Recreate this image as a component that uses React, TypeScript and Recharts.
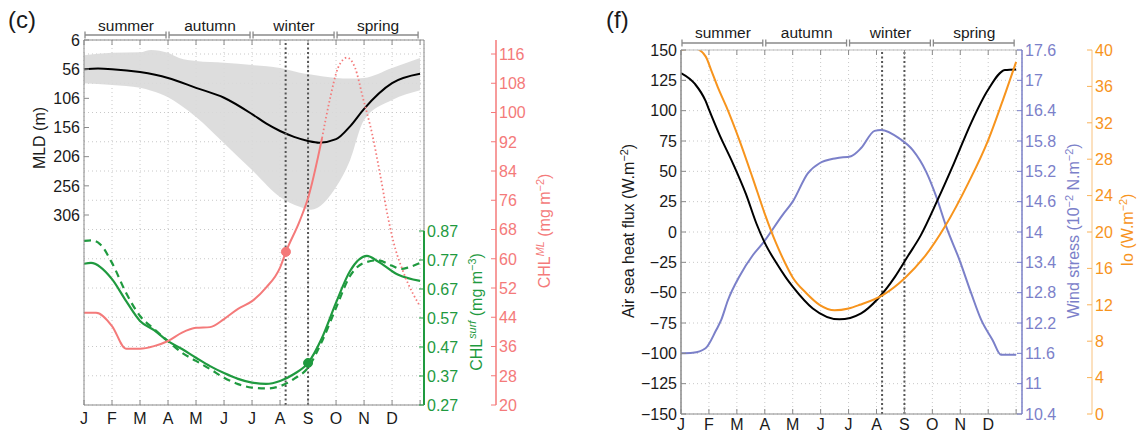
import React from "react";
import {
  Area,
  CartesianGrid,
  ComposedChart,
  Line,
  ReferenceDot,
  ReferenceLine,
  XAxis,
  YAxis,
} from "recharts";

/* =========================
   Data
========================= */

const MONTHS = ["J", "F", "M", "A", "M", "J", "J", "A", "S", "O", "N", "D", ""];
const MONTH_TICKS = [0, 1, 2, 3, 4, 5, 6, 7, 8, 9, 10, 11, 12];
const SEASONS = ["summer", "autumn", "winter", "spring"];
const EVENT_M = [7.2, 8];

// panel (c)
const MLD_TICKS = [6, 56, 106, 156, 206, 256, 306];
const CHLS_TICKS = [0.27, 0.37, 0.47, 0.57, 0.67, 0.77, 0.87];
const CHLML_TICKS = [20, 28, 36, 44, 52, 60, 68, 76, 84, 92, 100, 108, 116];

const MLD_M = [0, 0.5, 1, 2, 3, 4, 5, 6, 6.5, 7, 7.5, 8, 8.4, 9, 9.5, 10, 11, 12];
const MLD_V = [56, 55, 56, 61, 71, 88, 105, 133, 149, 162, 172, 179, 182, 176, 154, 124, 80, 64];

const BAND_M = [0, 1, 2, 2.4, 3, 3.4, 4, 5, 6, 7, 7.7, 8.1, 9, 9.5, 10, 11, 12];
const BAND_SHALLOW = [32, 28, 27, 23, 28, 37, 42, 45, 49, 54, 62, 65, 71, 72, 71, 54, 37];
const BAND_DEEP = [80, 83, 88, 93, 104, 116, 138, 183, 229, 275, 292, 297, 258, 212, 143, 109, 92];

const CHLML_M = [0, 0.43, 1, 1.5, 2, 2.5, 3, 3.5, 4, 4.5, 5, 5.5, 6, 6.5, 7, 7.21, 7.7, 8, 8.5];
const CHLML_V = [45.2, 45.2, 41.6, 35.4, 35.4, 36.1, 37.5, 39.8, 41.1, 41.3, 43.5, 46.3, 48.4, 52.1, 57.6, 61.9, 70.3, 76.6, 93];

const CHLML_DOT_M = [8.5, 8.79, 9.07, 9.39, 9.68, 9.96, 10.29, 10.57, 10.86, 11.04, 11.39, 11.75, 12];
const CHLML_DOT_V = [93, 104, 112.2, 115, 112.2, 104, 94.1, 83.2, 71.1, 64.9, 56.6, 50.4, 47];

const CHLS_M = [0, 0.25, 1, 1.5, 2, 2.5, 3, 3.5, 4, 4.5, 5, 5.5, 6, 6.5, 7, 7.5, 8, 8.5, 9, 9.5, 10.1, 10.5, 11.2, 12];
const CHLS_V = [0.757, 0.76, 0.704, 0.629, 0.56, 0.528, 0.49, 0.463, 0.433, 0.404, 0.38, 0.36, 0.347, 0.343, 0.353, 0.377, 0.415, 0.502, 0.623, 0.732, 0.784, 0.765, 0.72, 0.698];

const CHLS_DASH_M = [0, 0.25, 0.57, 1, 1.5, 2, 2.5, 3, 3.5, 4, 4.5, 5, 5.5, 6, 6.5, 7, 7.5, 8, 8.5, 9, 9.5, 10, 10.5, 11, 11.3, 11.6, 12];
const CHLS_DASH_V = [0.836, 0.838, 0.825, 0.76, 0.657, 0.577, 0.532, 0.49, 0.45, 0.422, 0.394, 0.364, 0.342, 0.33, 0.327, 0.335, 0.36, 0.399, 0.49, 0.605, 0.715, 0.76, 0.769, 0.75, 0.739, 0.745, 0.76];

const CHLML_MARK = { m: 7.21, v: 61.9 };
const CHLS_MARK = { m: 8, v: 0.415 };

// panel (f)
const FLUX_TICKS = [-150, -125, -100, -75, -50, -25, 0, 25, 50, 75, 100, 125, 150];
const WIND_TICKS = [10.4, 11, 11.6, 12.2, 12.8, 13.4, 14, 14.6, 15.2, 15.8, 16.4, 17, 17.6];
const IO_TICKS = [0, 4, 8, 12, 16, 20, 24, 28, 32, 36, 40];

const FLUX_M = [0, 0.5, 0.88, 1, 1.38, 1.85, 2.33, 2.7, 3, 3.4, 3.77, 4, 4.72, 5.67, 6.45, 7.05, 7.66, 8.12, 8.58, 9.18, 9.78, 10.39, 10.99, 11.6, 12];
const FLUX_V = [131, 122, 108, 101, 80, 57, 31, 7, -9, -25, -38, -45, -63, -72, -67, -55, -37, -20, -3, 26, 57, 90, 117, 133.5, 134];

const WIND_M = [0, 0.42, 0.88, 1.26, 1.44, 1.68, 2.09, 2.57, 2.93, 3.64, 4, 4.54, 4.96, 5.56, 6.09, 6.45, 6.93, 7.17, 7.82, 8.3, 8.78, 9.14, 9.5, 9.97, 10.39, 10.75, 11.16, 11.46, 12];
const WIND_V = [11.6, 11.61, 11.7, 12.06, 12.26, 12.65, 13.12, 13.54, 13.78, 14.34, 14.6, 15.16, 15.36, 15.46, 15.5, 15.66, 16.0, 16.02, 15.85, 15.62, 15.19, 14.7, 14.1, 13.45, 12.79, 12.26, 11.86, 11.57, 11.57];

const IO_M = [0, 0.48, 0.88, 1.08, 1.32, 1.62, 2.09, 2.57, 3, 3.4, 3.71, 4, 4.48, 4.96, 5.5, 6, 6.4, 7.24, 8, 8.7, 9.45, 10.29, 11, 11.48, 12];
const IO_V = [40, 40.2, 39.3, 37.8, 35.9, 33.8, 30.1, 25.9, 22, 18.8, 16.7, 15, 13.3, 12, 11.4, 11.6, 12, 13.1, 14.9, 17.2, 20.6, 25.4, 30.1, 34.1, 38.7];

/* =========================
   Style / layout
========================= */

const FONT = '"Liberation Sans", Arial, Helvetica, sans-serif';
const AXIS = "#8a8a8a";
const TXT = "#1a1a1a";
const GREEN = "#1f9a3f";
const PINK = "#f47a7a";
const BLUE = "#7b80c9";
const ORANGE = "#f7941d";
const BAND = "#d9d9d9";
const GRID = "#c8c8c8";

const XMAX_C = 12.14;
const XMAX_F = 12.21;
const MPX_C = 340 / XMAX_C;
const MPX_F = 341 / XMAX_F;

function pts(m: number[], v: number[]) {
  return m.map((x, i) => ({ m: x, v: v[i] }));
}

const fmtMinus = (v: number) => (v < 0 ? "\u2212" + Math.abs(v) : String(v));

/* =========================
   Tick renderers
========================= */

function bottomTick(labelDy: number) {
  return (p: any) => (
    <g>
      <line x1={p.x} x2={p.x} y1={p.y} y2={p.y - 5} stroke={AXIS} />
      <text x={p.x} y={p.y + labelDy} textAnchor="middle" fontSize={16} fill={TXT} fontFamily={FONT}>
        {MONTHS[p.payload.value]}
      </text>
    </g>
  );
}

function topTick(mpx: number, bracketUp: number, textUp: number) {
  return (p: any) => {
    const m = p.payload.value;
    const x = p.x;
    const y = p.y;
    const season = m % 3 === 0 && m < 12 ? SEASONS[m / 3] : null;
    const by = y - bracketUp;
    const x0 = x + 1;
    const x1 = x + 3 * mpx - 2;
    return (
      <g>
        <line x1={x} x2={x} y1={y} y2={y + 5} stroke={AXIS} />
        {season && (
          <g>
            <path
              d={`M${x0},${by - 3.5}V${by + 3.5}M${x0},${by}H${x1}M${x1},${by - 3.5}V${by + 3.5}`}
              stroke={AXIS}
              strokeWidth={1.3}
              fill="none"
            />
            <text x={x + 1.5 * mpx} y={y - textUp} textAnchor="middle" fontSize={15.5} fill={TXT} fontFamily={FONT}>
              {season}
            </text>
          </g>
        )}
      </g>
    );
  };
}

function leftTick(fmt: (v: number) => string, color: string) {
  return (p: any) => (
    <g>
      <line x1={p.x} x2={p.x + 5} y1={p.y} y2={p.y} stroke={AXIS} />
      <text x={p.x - 4} y={p.y} dy="0.36em" textAnchor="end" fontSize={16} fill={color} fontFamily={FONT}>
        {fmt(p.payload.value)}
      </text>
    </g>
  );
}

function rightTick(fmt: (v: number) => string, color: string, tickColor: string) {
  return (p: any) => (
    <g>
      <line x1={p.x} x2={p.x - 5} y1={p.y} y2={p.y} stroke={tickColor} />
      <text x={p.x + 3} y={p.y} dy="0.36em" textAnchor="start" fontSize={16} fill={color} fontFamily={FONT}>
        {fmt(p.payload.value)}
      </text>
    </g>
  );
}

function VTitle({ x, y, color, children }: { x: number; y: number; color: string; children: React.ReactNode }) {
  return (
    <div
      style={{
        position: "absolute",
        left: x,
        top: y,
        transform: "translate(-50%, -50%) rotate(-90deg)",
        whiteSpace: "nowrap",
        color,
        fontSize: 16,
        lineHeight: 1,
      }}
    >
      {children}
    </div>
  );
}

const supStyle: React.CSSProperties = { fontSize: "0.68em", verticalAlign: "0.55em" };

/* =========================
   App
========================= */

export default function App() {
  const band = BAND_M.map((m, i) => ({ m, r: [BAND_SHALLOW[i], BAND_DEEP[i]] }));

  return (
    <div
      style={{
        position: "absolute",
        left: 0,
        top: 0,
        width: 1142,
        height: 434,
        background: "#fff",
        fontFamily: FONT,
        overflow: "hidden",
      }}
    >
      {/* ---------- panel (c) ---------- */}
      <div style={{ position: "absolute", left: 0, top: 0 }}>
        <ComposedChart width={570} height={434} margin={{ top: 0, right: 4, bottom: 0, left: 0 }}>
          <XAxis
            xAxisId="b"
            dataKey="m"
            type="number"
            domain={[0, XMAX_C]}
            ticks={MONTH_TICKS}
            interval={0}
            allowDataOverflow
            height={29}
            tickSize={0}
            tickMargin={0}
            tickLine={false}
            axisLine={{ stroke: AXIS }}
            tick={bottomTick(19)}
          />
          <XAxis
            xAxisId="t"
            dataKey="m"
            orientation="top"
            type="number"
            domain={[0, XMAX_C]}
            ticks={MONTH_TICKS}
            interval={0}
            allowDataOverflow
            height={40}
            tickSize={0}
            tickMargin={0}
            tickLine={false}
            axisLine={{ stroke: AXIS }}
            tick={topTick(MPX_C, 5, 9)}
          />
          <YAxis
            yAxisId="mld"
            orientation="left"
            type="number"
            reversed
            domain={[6, 631.7]}
            ticks={MLD_TICKS}
            interval={0}
            allowDataOverflow
            width={84}
            tickSize={0}
            tickMargin={0}
            tickLine={false}
            axisLine={{ stroke: AXIS }}
            tick={leftTick(String, TXT)}
          />
          <YAxis
            yAxisId="r1green"
            orientation="right"
            type="number"
            domain={[0.27, 1.5286]}
            ticks={CHLS_TICKS}
            interval={0}
            allowDataOverflow
            width={72}
            tickSize={0}
            tickMargin={0}
            tickLine={false}
            axisLine={false}
            tick={rightTick((v) => v.toFixed(2), GREEN, GREEN)}
          />
          <YAxis
            yAxisId="r2pink"
            orientation="right"
            type="number"
            domain={[20, 119.83]}
            ticks={CHLML_TICKS}
            interval={0}
            allowDataOverflow
            width={70}
            tickSize={0}
            tickMargin={0}
            tickLine={false}
            axisLine={{ stroke: PINK, strokeWidth: 1.5 }}
            tick={rightTick(String, PINK, PINK)}
          />
          <CartesianGrid xAxisId="b" yAxisId="r2pink" stroke={GRID} strokeDasharray="1 3" />

          <Area
            xAxisId="b"
            yAxisId="mld"
            data={band}
            dataKey="r"
            type="monotone"
            stroke="none"
            fill={BAND}
            fillOpacity={0.9}
            isAnimationActive={false}
          />
          <Line
            xAxisId="b"
            yAxisId="mld"
            data={pts(MLD_M, MLD_V)}
            dataKey="v"
            type="monotone"
            stroke="#000"
            strokeWidth={2}
            dot={false}
            isAnimationActive={false}
          />
          {EVENT_M.map((m) => (
            <ReferenceLine
              key={m}
              xAxisId="b"
              yAxisId="r2pink"
              x={m}
              stroke="#555"
              strokeWidth={2}
              strokeDasharray="2 2.5"
            />
          ))}
          <ReferenceLine xAxisId="b" yAxisId="r2pink" x={XMAX_C} stroke={AXIS} />
          <ReferenceLine
            xAxisId="b"
            yAxisId="r1green"
            segment={[
              { x: XMAX_C, y: CHLS_TICKS[0] },
              { x: XMAX_C, y: CHLS_TICKS[CHLS_TICKS.length - 1] },
            ]}
            stroke={GREEN}
            strokeWidth={2}
            ifOverflow="visible"
          />
          <Line
            xAxisId="b"
            yAxisId="r1green"
            data={pts(CHLS_DASH_M, CHLS_DASH_V)}
            dataKey="v"
            type="monotone"
            stroke={GREEN}
            strokeWidth={2.2}
            strokeDasharray="7 5"
            dot={false}
            isAnimationActive={false}
          />
          <Line
            xAxisId="b"
            yAxisId="r1green"
            data={pts(CHLS_M, CHLS_V)}
            dataKey="v"
            type="monotone"
            stroke={GREEN}
            strokeWidth={2.2}
            dot={false}
            isAnimationActive={false}
          />
          <Line
            xAxisId="b"
            yAxisId="r2pink"
            data={pts(CHLML_M, CHLML_V)}
            dataKey="v"
            type="monotone"
            stroke={PINK}
            strokeWidth={2}
            dot={false}
            isAnimationActive={false}
          />
          <Line
            xAxisId="b"
            yAxisId="r2pink"
            data={pts(CHLML_DOT_M, CHLML_DOT_V)}
            dataKey="v"
            type="monotone"
            stroke={PINK}
            strokeWidth={1.8}
            strokeDasharray="1.5 2.5"
            dot={false}
            isAnimationActive={false}
          />
          <ReferenceDot
            xAxisId="b"
            yAxisId="r2pink"
            x={CHLML_MARK.m}
            y={CHLML_MARK.v}
            r={4.5}
            fill={PINK}
            stroke={PINK}
          />
          <ReferenceDot
            xAxisId="b"
            yAxisId="r1green"
            x={CHLS_MARK.m}
            y={CHLS_MARK.v}
            r={4.5}
            fill={GREEN}
            stroke={GREEN}
          />
        </ComposedChart>
      </div>

      {/* ---------- panel (f) ---------- */}
      <div style={{ position: "absolute", left: 570, top: 0 }}>
        <ComposedChart width={572} height={434} margin={{ top: 0, right: 0, bottom: 0, left: 0 }}>
          <XAxis
            xAxisId="b"
            dataKey="m"
            type="number"
            domain={[0, XMAX_F]}
            ticks={MONTH_TICKS}
            interval={0}
            allowDataOverflow
            height={20}
            tickSize={0}
            tickMargin={0}
            tickLine={false}
            axisLine={{ stroke: AXIS }}
            tick={bottomTick(16)}
          />
          <XAxis
            xAxisId="t"
            dataKey="m"
            orientation="top"
            type="number"
            domain={[0, XMAX_F]}
            ticks={MONTH_TICKS}
            interval={0}
            allowDataOverflow
            height={50}
            tickSize={0}
            tickMargin={0}
            tickLine={false}
            axisLine={{ stroke: "#bdbdbd" }}
            tick={topTick(MPX_F, 7, 12)}
          />
          <YAxis
            yAxisId="flux"
            orientation="left"
            type="number"
            domain={[-150, 150]}
            ticks={FLUX_TICKS}
            interval={0}
            allowDataOverflow
            width={111}
            tickSize={0}
            tickMargin={0}
            tickLine={false}
            axisLine={{ stroke: AXIS, strokeWidth: 1.5 }}
            tick={leftTick(fmtMinus, TXT)}
          />
          <YAxis
            yAxisId="r1wind"
            orientation="right"
            type="number"
            domain={[10.4, 17.6]}
            ticks={WIND_TICKS}
            interval={0}
            allowDataOverflow
            width={70}
            tickSize={0}
            tickMargin={0}
            tickLine={false}
            axisLine={{ stroke: BLUE, strokeWidth: 1.5 }}
            tick={rightTick(String, BLUE, BLUE)}
          />
          <YAxis
            yAxisId="r2io"
            orientation="right"
            type="number"
            domain={[0, 40]}
            ticks={IO_TICKS}
            interval={0}
            allowDataOverflow
            width={50}
            tickSize={0}
            tickMargin={0}
            tickLine={false}
            axisLine={{ stroke: "#f9c27f" }}
            tick={rightTick(String, ORANGE, "#f9b35a")}
          />
          <CartesianGrid xAxisId="b" yAxisId="flux" stroke={GRID} strokeDasharray="1 3" />

          {EVENT_M.map((m) => (
            <ReferenceLine
              key={m}
              xAxisId="b"
              yAxisId="flux"
              x={m}
              stroke="#555"
              strokeWidth={2}
              strokeDasharray="2 2.5"
            />
          ))}
          <Line
            xAxisId="b"
            yAxisId="r1wind"
            data={pts(WIND_M, WIND_V)}
            dataKey="v"
            type="monotone"
            stroke={BLUE}
            strokeWidth={2}
            dot={false}
            isAnimationActive={false}
          />
          <Line
            xAxisId="b"
            yAxisId="flux"
            data={pts(FLUX_M, FLUX_V)}
            dataKey="v"
            type="monotone"
            stroke="#000"
            strokeWidth={2}
            dot={false}
            isAnimationActive={false}
          />
          <Line
            xAxisId="b"
            yAxisId="r2io"
            data={pts(IO_M, IO_V)}
            dataKey="v"
            type="monotone"
            stroke={ORANGE}
            strokeWidth={2}
            dot={false}
            isAnimationActive={false}
          />
        </ComposedChart>
      </div>

      {/* ---------- panel letters & axis titles ---------- */}
      <div style={{ position: "absolute", left: 8, top: 6, fontSize: 24, color: TXT }}>(c)</div>
      <div style={{ position: "absolute", left: 606, top: 6, fontSize: 24, color: TXT }}>(f)</div>

      <VTitle x={40} y={138} color={TXT}>MLD (m)</VTitle>
      <VTitle x={476} y={312} color={GREEN}>
        CHL<span style={{ ...supStyle, fontStyle: "italic" }}>surf</span> (mg m<span style={supStyle}>−3</span>)
      </VTitle>
      <VTitle x={544} y={231} color={PINK}>
        CHL<span style={{ ...supStyle, fontStyle: "italic" }}>ML</span> (mg m<span style={supStyle}>−2</span>)
      </VTitle>
      <VTitle x={628} y={231} color={TXT}>
        Air sea heat flux (W.m<span style={supStyle}>−2</span>)
      </VTitle>
      <VTitle x={1073} y={231} color={BLUE}>
        Wind stress (10<span style={supStyle}>−2</span> N.m<span style={supStyle}>−2</span>)
      </VTitle>
      <VTitle x={1127} y={230} color={ORANGE}>
        Io (W.m<span style={supStyle}>−2</span>)
      </VTitle>
    </div>
  );
}
